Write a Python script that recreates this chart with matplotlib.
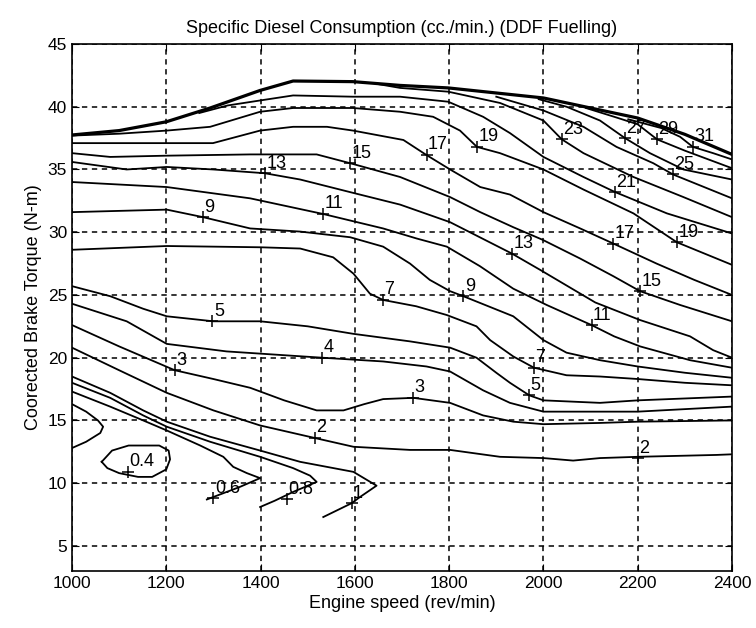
import matplotlib
matplotlib.use("Agg")
import matplotlib.pyplot as plt

plt.rcParams["font.family"] = ["Liberation Sans", "DejaVu Sans"]

# Contour lines of specific diesel consumption (cc./min.), as (engine speed, torque) points
boundary = [(1000, 37.75), (1100, 38.1), (1200, 38.8), (1293, 39.9), (1399, 41.3), (1469, 42.05),
            (1596, 42.0), (1696, 41.7), (1798, 41.5), (2000, 40.7), (2200, 39.1), (2300, 37.8), (2400, 36.2)]
c0_2 = [(1000, 16.3), (1030, 15.7), (1055, 15.0), (1066, 14.5), (1060, 14.0), (1030, 13.3), (1000, 12.8)]
c0_4 = [(1063, 11.7), (1085, 12.6), (1120, 13.0), (1185, 13.0), (1205, 12.6), (1208, 11.9), (1200, 11.1),
        (1170, 10.5), (1140, 10.5), (1100, 10.8), (1075, 11.2), (1063, 11.7)]
c0_6 = [(1000, 17.3), (1081, 16.1), (1151, 15.0), (1201, 14.2), (1272, 13.0), (1321, 12.1), (1342, 11.3),
        (1371, 10.8), (1399, 10.4), (1356, 9.7), (1314, 9.1), (1286, 8.7)]
c0_8 = [(1000, 18.0), (1081, 16.8), (1151, 15.4), (1201, 14.5), (1293, 13.3), (1399, 12.1), (1469, 11.2),
        (1505, 10.6), (1519, 10.1), (1469, 9.3), (1430, 8.6), (1399, 8.1)]
c1 = [(1000, 18.5), (1081, 17.2), (1151, 15.8), (1201, 14.9), (1293, 13.7), (1399, 12.6), (1484, 11.7),
      (1597, 10.9), (1646, 9.8), (1611, 8.9), (1593, 8.4), (1533, 7.3)]
c2 = [(1000, 20.8), (1100, 19.0), (1201, 17.2), (1300, 15.8), (1399, 14.6), (1515, 13.6), (1597, 12.9),
      (1717, 12.65), (1802, 12.65), (1908, 12.1), (2000, 12.0), (2063, 11.8), (2120, 12.0), (2200, 12.1),
      (2367, 12.25), (2400, 12.3)]
c3 = [(1000, 22.6), (1100, 20.9), (1218, 19.0), (1300, 18.3), (1378, 17.6), (1450, 16.6), (1519, 15.8),
      (1576, 15.8), (1620, 16.3), (1660, 16.7), (1724, 16.8), (1802, 16.4), (1872, 15.4), (1936, 14.9),
      (2000, 14.7), (2120, 14.8), (2200, 14.9), (2400, 15.0)]
c4 = [(1000, 24.3), (1116, 22.9), (1201, 21.1), (1328, 20.5), (1530, 20.0), (1660, 19.7), (1752, 19.3),
      (1802, 18.9), (1872, 17.4), (1929, 16.4), (2000, 15.7), (2200, 15.7), (2400, 16.1)]
c5 = [(1000, 25.7), (1081, 24.9), (1151, 23.9), (1201, 23.3), (1300, 22.9), (1399, 22.9), (1500, 22.5),
      (1597, 21.9), (1717, 21.3), (1802, 20.8), (1858, 20.0), (1900, 18.8), (1929, 18.0), (1970, 17.0),
      (2000, 16.6), (2120, 16.4), (2200, 16.6), (2400, 16.9)]
c7 = [(1000, 28.6), (1201, 28.9), (1399, 28.8), (1484, 28.7), (1554, 28.0), (1597, 26.7), (1632, 25.1),
      (1660, 24.6), (1730, 24.1), (1795, 23.4), (1858, 22.5), (1887, 21.4), (1936, 20.1), (1980, 19.2),
      (2049, 18.6), (2120, 18.5), (2200, 18.3), (2300, 18.0), (2400, 17.8)]
c9 = [(1000, 31.6), (1100, 31.7), (1201, 31.8), (1278, 31.2), (1378, 30.3), (1484, 30.05), (1590, 29.6),
      (1660, 28.85), (1717, 27.5), (1759, 26.2), (1802, 25.3), (1830, 24.9), (1936, 23.3), (2000, 21.4),
      (2049, 20.4), (2120, 19.8), (2200, 19.3), (2300, 18.8), (2400, 18.4)]
c11 = [(1000, 34.0), (1201, 33.6), (1378, 32.7), (1533, 31.45), (1660, 30.3), (1731, 29.5), (1795, 28.85),
       (1865, 27.3), (1936, 25.5), (2007, 24.2), (2102, 22.6), (2150, 21.7), (2205, 20.9), (2311, 19.8),
       (2400, 19.2)]
c13 = [(1000, 35.6), (1116, 35.0), (1201, 35.2), (1300, 35.0), (1409, 34.7), (1484, 34.2), (1600, 33.1),
       (1696, 32.2), (1802, 30.8), (1933, 28.3), (1993, 27.0), (2110, 24.4), (2205, 23.0), (2311, 21.7),
       (2360, 20.6), (2400, 20.0)]
c15 = [(1000, 36.3), (1081, 36.0), (1201, 36.1), (1378, 36.2), (1519, 36.2), (1590, 35.5), (1696, 34.4),
       (1802, 32.8), (1866, 31.6), (1936, 30.4), (1998, 29.4), (2078, 27.9), (2148, 26.5), (2205, 25.3),
       (2290, 24.2), (2400, 22.9)]
c17 = [(1000, 37.1), (1299, 37.1), (1399, 38.1), (1469, 38.4), (1541, 38.4), (1596, 38.1), (1703, 37.35),
       (1752, 36.15), (1802, 35.0), (1866, 33.6), (1929, 33.0), (2000, 31.6), (2078, 30.3), (2148, 29.1),
       (2240, 27.5), (2320, 26.2), (2400, 25.0)]
c19 = [(1000, 37.7), (1100, 37.85), (1201, 38.1), (1293, 38.4), (1399, 39.6), (1469, 39.9), (1596, 39.9),
       (1696, 39.6), (1766, 39.2), (1823, 38.1), (1859, 36.8), (1908, 36.3), (2000, 35.0), (2085, 33.4),
       (2191, 31.5), (2283, 29.2), (2400, 27.4)]
c21 = [(1270, 39.5), (1330, 40.1), (1399, 40.5), (1469, 40.9), (1596, 40.8), (1696, 40.8), (1798, 40.4),
       (1872, 39.2), (1929, 37.9), (2000, 36.0), (2085, 34.4), (2152, 33.2), (2262, 31.5), (2400, 29.9)]
c23 = [(1650, 41.8), (1696, 41.5), (1798, 41.2), (1908, 40.3), (2000, 38.9), (2039, 37.4), (2085, 36.3),
       (2191, 34.4), (2297, 32.8), (2400, 31.2)]
c25 = [(1900, 40.8), (2000, 39.7), (2085, 38.4), (2155, 36.8), (2233, 35.5), (2275, 34.6), (2400, 32.7)]
c27 = [(1990, 40.6), (2049, 40.0), (2120, 38.9), (2173, 37.5), (2226, 36.3), (2297, 35.0), (2400, 34.2)]
c29 = [(2090, 39.9), (2150, 39.2), (2200, 38.6), (2241, 37.4), (2300, 36.5), (2400, 35.1)]
c31 = [(2180, 39.0), (2250, 38.3), (2290, 37.6), (2317, 36.8), (2360, 36.3), (2400, 35.8)]

# Contour labels: text and the (speed, torque) point marked with '+'
label_text = ["0.4", "0.6", "0.8", "1", "2", "2", "3", "3", "4", "5", "5", "7", "7", "9", "9",
              "11", "11", "13", "13", "15", "15", "17", "17", "19", "19", "21", "23", "25", "27", "29", "31"]
label_speed = [1119, 1300, 1455, 1593, 1515, 2200, 1218, 1724, 1530, 1298, 1970, 1660, 1980, 1278, 1830,
               1533, 2102, 1409, 1933, 1590, 2205, 1752, 2148, 1859, 2283, 2152, 2039, 2275, 2173, 2241, 2317]
label_torque = [10.9, 8.8, 8.7, 8.4, 13.6, 12.0, 19.0, 16.8, 20.0, 22.9, 17.0, 24.6, 19.2, 31.2, 24.9,
                31.45, 22.6, 34.7, 28.3, 35.5, 25.3, 36.15, 29.1, 36.8, 29.2, 33.2, 37.4, 34.6, 37.5, 37.4, 36.8]

x_ticks = [1000, 1200, 1400, 1600, 1800, 2000, 2200, 2400]
y_ticks = [5, 10, 15, 20, 25, 30, 35, 40, 45]

fig = plt.figure(figsize=(7.56, 6.28), dpi=100)
ax = fig.add_axes([72 / 756, 1 - 571 / 628, 660 / 756, 527 / 628])

for line in [c0_2, c0_4, c0_6, c0_8, c1, c2, c3, c4, c5, c7, c9, c11, c13, c15,
             c17, c19, c21, c23, c25, c27, c29, c31]:
    xs, ys = zip(*line)
    ax.plot(xs, ys, color="black", lw=1.3, zorder=3)
bx, by = zip(*boundary)
ax.plot(bx, by, color="black", lw=2.3, zorder=3)

for t, sx, ty in zip(label_text, label_speed, label_torque):
    ax.plot(sx, ty, marker="+", ms=9, mew=1.1, color="black", zorder=4)
    ax.annotate(t, (sx, ty), xytext=(1, 4), textcoords="offset points",
                ha="left", va="baseline", fontsize=13, color="black", zorder=5)

ax.set_xlim(1000, 2400)
ax.set_ylim(3, 45)
ax.set_xticks(x_ticks)
ax.set_yticks(y_ticks)
ax.grid(True, color="black", linestyle=(0, (3.5, 3)), lw=1.1)
ax.tick_params(direction="in", top=True, right=True, labelsize=12.5, length=5)
for s in ax.spines.values():
    s.set_linewidth(1.2)

ax.set_title("Specific Diesel Consumption (cc./min.) (DDF Fuelling)", fontsize=13, pad=8)
ax.set_xlabel("Engine speed (rev/min)", fontsize=13, labelpad=3)
ax.set_ylabel("Coorected Brake Torque (N-m)", fontsize=13, labelpad=4)

fig.savefig("out.png", dpi=100, facecolor="white")
